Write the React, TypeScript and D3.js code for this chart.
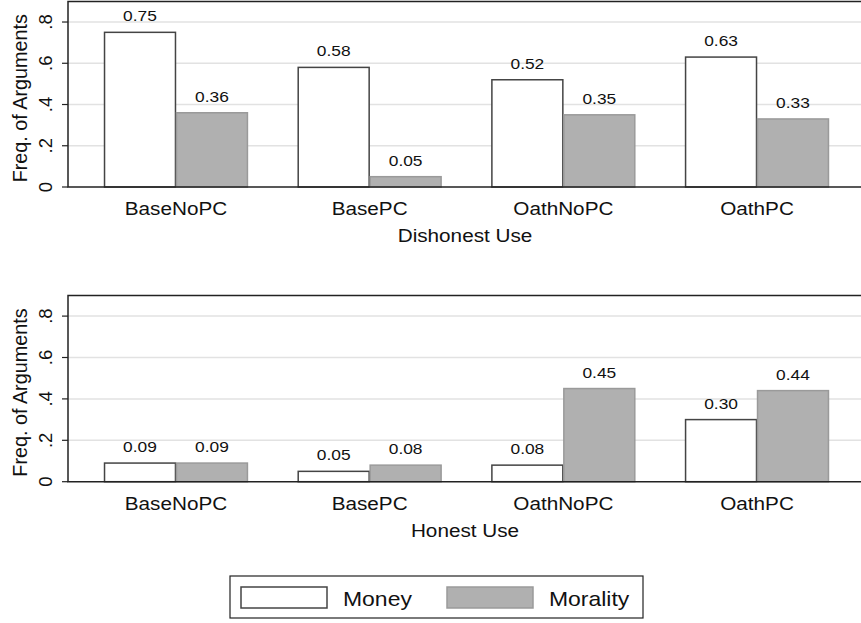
import { useEffect, useRef } from 'react';
import * as d3 from 'd3';

const CATEGORIES = ['BaseNoPC', 'BasePC', 'OathNoPC', 'OathPC'];
const SERIES = ['Money', 'Morality'];
const DISHONEST_MONEY = [0.75, 0.58, 0.52, 0.63];
const DISHONEST_MORALITY = [0.36, 0.05, 0.35, 0.33];
const HONEST_MONEY = [0.09, 0.05, 0.08, 0.30];
const HONEST_MORALITY = [0.09, 0.08, 0.45, 0.44];
const Y_TICKS = [0, 0.2, 0.4, 0.6, 0.8];
const Y_TICK_LABELS = ['0', '.2', '.4', '.6', '.8'];

const PANELS = [
  { title: 'Dishonest Use', money: DISHONEST_MONEY, morality: DISHONEST_MORALITY, top: 1.4, bottom: 187 },
  { title: 'Honest Use', money: HONEST_MONEY, morality: HONEST_MORALITY, top: 295.4, bottom: 481.7 },
];

const FILL = ['#ffffff', '#b0b0b0'];
const STROKE = ['#444444', '#9a9a9a'];
const FONT = 'Arial, "Liberation Sans", Helvetica, sans-serif';
const SX = 1.12;

export default function App() {
  const svgRef = useRef<SVGSVGElement>(null);

  useEffect(() => {
    const svg = d3.select(svgRef.current);
    svg.selectAll('*').remove();
    const W = 861, H = 623;
    const left = 68, right = 865;

    svg.append('rect').attr('width', W).attr('height', H).attr('fill', '#fff');

    const x = d3.scaleBand<string>().domain(CATEGORIES).range([left, right]).paddingInner(0.257).paddingOuter(0.186);
    const xs = d3.scaleBand<string>().domain(SERIES).range([0, x.bandwidth()]);

    const hText = (g: d3.Selection<SVGGElement, unknown, null, undefined>, tx: number, ty: number, s: string, size: number) =>
      g.append('text')
        .attr('transform', `translate(${tx},${ty}) scale(${SX},1)`)
        .attr('text-anchor', 'middle').attr('font-size', size).attr('font-family', FONT)
        .attr('fill', '#111').text(s);

    PANELS.forEach((p) => {
      const y = d3.scaleLinear().domain([0, 0.9]).range([p.bottom, p.top]);
      const g = svg.append('g');

      // grid
      g.selectAll('.grid').data(Y_TICKS.slice(1)).join('line')
        .attr('x1', left).attr('x2', right)
        .attr('y1', (d) => y(d)).attr('y2', (d) => y(d))
        .attr('stroke', '#e2e2e2').attr('stroke-width', 1.5);

      // bars
      CATEGORIES.forEach((c, i) => {
        const vals = [p.money[i], p.morality[i]];
        SERIES.forEach((s, j) => {
          const bx = x(c)! + xs(s)!;
          g.append('rect')
            .attr('x', bx + 0.5).attr('y', y(vals[j]))
            .attr('width', xs.bandwidth() - 1).attr('height', y(0) - y(vals[j]))
            .attr('fill', FILL[j]).attr('stroke', STROKE[j]).attr('stroke-width', 1.5);
          hText(g, bx + xs.bandwidth() / 2, y(vals[j]) - 11, vals[j].toFixed(2), 15.5);
        });
        hText(g, x(c)! + x.bandwidth() / 2, p.bottom + 28, c, 18.5);
      });

      // frame
      g.append('path')
        .attr('d', `M${right},${p.top}H${left}V${p.bottom}H${right}`)
        .attr('fill', 'none').attr('stroke', '#222').attr('stroke-width', 1.5);

      // y axis ticks
      g.selectAll('.tick').data(Y_TICKS).join('line')
        .attr('x1', left - 6).attr('x2', left)
        .attr('y1', (d) => y(d)).attr('y2', (d) => y(d))
        .attr('stroke', '#222').attr('stroke-width', 1.2);
      g.selectAll('.tl').data(Y_TICKS).join('text')
        .attr('transform', (d) => `translate(52,${y(d)}) rotate(-90)`)
        .attr('text-anchor', 'middle').attr('font-size', 18.5).attr('font-family', FONT)
        .attr('fill', '#111').text((_, i) => Y_TICK_LABELS[i]);
      g.append('text')
        .attr('transform', `translate(27,${(p.top + p.bottom) / 2 + 4}) rotate(-90)`)
        .attr('text-anchor', 'middle').attr('font-size', 19.8).attr('font-family', FONT)
        .attr('fill', '#111').text('Freq. of Arguments');

      hText(g, (left + 862) / 2, p.bottom + 55, p.title, 18.5);
    });

    // legend
    const lg = svg.append('g');
    lg.append('rect').attr('x', 230).attr('y', 576).attr('width', 413).attr('height', 42)
      .attr('fill', '#fff').attr('stroke', '#222').attr('stroke-width', 1.2);
    const legendX = [241, 447];
    SERIES.forEach((s, j) => {
      lg.append('rect').attr('x', legendX[j]).attr('y', 587).attr('width', 86).attr('height', 21)
        .attr('fill', FILL[j]).attr('stroke', STROKE[j]).attr('stroke-width', 1.5);
      lg.append('text')
        .attr('transform', `translate(${legendX[j] + 102},${606}) scale(${SX},1)`)
        .attr('font-size', 20.5).attr('font-family', FONT).attr('fill', '#111').text(s);
    });
  }, []);

  return (
    <svg ref={svgRef} width={861} height={623}
      style={{ position: 'absolute', left: 0, top: 0, display: 'block' }} />
  );
}
